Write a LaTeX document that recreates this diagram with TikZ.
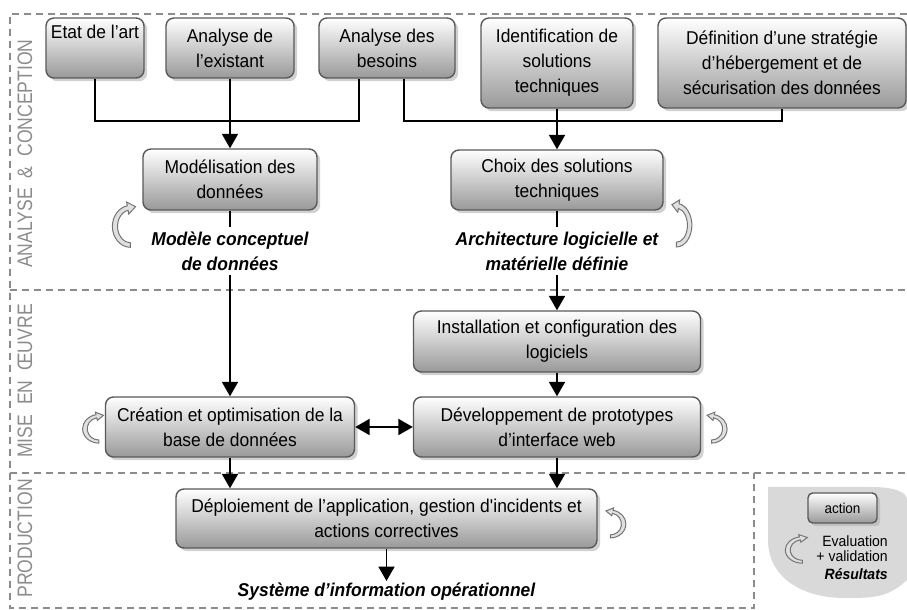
\documentclass[tikz,border=0pt]{standalone}
\usepackage{fontspec}
\setmainfont{Liberation Sans}[FakeStretch=0.94]
\newfontfamily\lanefont{Liberation Sans}[FakeStretch=0.84]
\usetikzlibrary{arrows.meta,shadows}

\tikzset{
  etape/.style={draw=black!65, line width=1pt, rounded corners=0.2cm,
    top color=white, bottom color=black!40, align=center, inner sep=2pt,
    font=\fontsize{13.2}{17.8}\selectfont,
    drop shadow={shadow xshift=0.08cm, shadow yshift=-0.08cm, fill=black!30, opacity=0.6}},
  resultat/.style={align=center, inner sep=0.1cm, font=\fontsize{13.2}{17.8}\selectfont\bfseries\itshape},
  couloir/.style={rotate=90, text=black!45, font=\fontsize{14.9}{16}\lanefont},
  lien/.style={line width=1.3pt},
  fleche/.style={lien, -{Triangle[length=0.36cm,width=0.4cm]}},
  fleche2/.style={lien, {Triangle[length=0.36cm,width=0.4cm]}-{Triangle[length=0.36cm,width=0.4cm]}},
  cadre/.style={draw=black!45, line width=0.9pt, dash pattern=on 0.18cm off 0.12cm},
  evalloop/.pic={
    \filldraw[draw=black!55, fill=black!12, line width=0.7pt]
      (0,-0.55) arc[start angle=270, end angle=100, x radius=0.45, y radius=0.55]
      -- (-0.095,0.64) -- (0.13,0.52) -- (-0.04,0.325)
      -- (-0.057,0.423) arc[start angle=100, end angle=270, x radius=0.32, y radius=0.43]
      -- cycle;
  }
}

\begin{document}
\begin{tikzpicture}
  \useasboundingbox (0,0) rectangle (22.675,-15.25);

  % lanes
  \draw[cadre] (22.675,-0.35) -- (0.25,-0.35) -- (0.25,-15.2) -- (18.85,-15.2) -- (18.85,-11.825);
  \draw[cadre] (0.25,-7.25) -- (22.675,-7.25);
  \draw[cadre] (0.25,-11.825) -- (22.675,-11.825);
  \node[couloir] (lane1) at (0.625,-3.84) {ANALYSE \ \& \ CONCEPTION};
  \node[couloir] (lane2) at (0.625,-9.525) {MISE \ EN \ ŒUVRE};
  \node[couloir] (lane3) at (0.625,-13.46) {PRODUCTION};

  % legend
  \fill[black!15] (19.2,-12.175) -- (21.75,-12.175)
    .. controls (22.375,-12.175) and (22.675,-12.3) .. (22.675,-12.5)
    -- (22.675,-14.5)
    .. controls (22.2,-14.95) and (21.8,-14.95) .. (21.125,-14.95)
    .. controls (20.0,-14.95) and (19.2,-14.4) .. (19.2,-13.5) -- cycle;
  \node[etape, minimum width=1.725cm, minimum height=0.75cm, rounded corners=0.12cm,
    font=\fontsize{10.2}{11}\selectfont] (action) at (21.0625,-12.7) {action};
  \pic[xscale=0.95, yscale=0.6] at (20.06,-13.75) {evalloop};
  \node[align=right, anchor=east, inner sep=0pt, font=\fontsize{10.6}{10.2}\selectfont]
    (legende) at (22.2,-13.95) {Evaluation\\+ validation\\[3pt]\textbf{\textit{Résultats}}};

  % analyse & conception
  \node[etape, minimum width=2.45cm, minimum height=1.5cm] (etat) at (2.375,-1.2) {Etat de l’art\\ \strut};
  \node[etape, minimum width=3.2cm, minimum height=1.5cm] (exist) at (5.75,-1.2) {Analyse de\\l’existant};
  \node[etape, minimum width=3.4cm, minimum height=1.5cm] (besoins) at (9.675,-1.2) {Analyse des\\besoins};
  \node[etape, minimum width=3.8cm, minimum height=2.25cm] (ident) at (13.925,-1.575) {Identification de\\solutions\\techniques};
  \node[etape, minimum width=6.2cm, minimum height=2.25cm] (strat) at (19.55,-1.575) {Définition d’une stratégie\\d’hébergement et de\\sécurisation des données};
  \node[etape, minimum width=4.35cm, minimum height=1.525cm] (model) at (5.75,-4.4875) {Modélisation des\\données};
  \node[etape, minimum width=5.3cm, minimum height=1.5cm] (choix) at (13.925,-4.5) {Choix des solutions\\techniques};
  \node[resultat] (mcd) at (5.75,-6.275) {Modèle conceptuel\\de données};
  \node[resultat] (archi) at (13.925,-6.275) {Architecture logicielle et\\matérielle définie};
  \pic[yscale=0.95] at (3.26,-5.66) {evalloop};
  \pic[xscale=-0.86, yscale=0.99] at (16.91,-5.63) {evalloop};

  \coordinate (b1) at ([xshift=-0.7cm]besoins.south);
  \coordinate (b2) at ([xshift=0.425cm]besoins.south);
  \draw[lien] (etat.south) -- ++(0,-1.05) -| (b1);
  \draw[lien] (b2) -- ++(0,-1.05) -| (strat.south);
  \draw[fleche] (exist.south) -- (model.north);
  \draw[fleche] (ident.south) -- (choix.north);
  \draw[lien] (model.south) -- (mcd.north);
  \draw[lien] (choix.south) -- (archi.north);

  % mise en oeuvre
  \node[etape, minimum width=7.175cm, minimum height=1.525cm] (instal) at (13.925,-8.5375) {Installation et configuration des\\logiciels};
  \node[etape, minimum width=7.175cm, minimum height=1.5cm] (dev) at (13.925,-10.675) {Développement de prototypes\\d’interface web};
  \node[etape, minimum width=6.225cm, minimum height=1.5cm] (creat) at (5.75,-10.675) {Création et optimisation de la\\base de données};
  \pic[xscale=0.9, yscale=0.65] at (2.47,-10.72) {evalloop};
  \pic[xscale=-0.86, yscale=0.65] at (17.79,-10.72) {evalloop};

  \draw[fleche] (mcd.south) -- (creat.north);
  \draw[fleche] (archi.south) -- (instal.north);
  \draw[fleche] (instal.south) -- (dev.north);
  \draw[fleche2] (creat.east) -- (dev.west);

  % production
  \node[etape, minimum width=10.525cm, minimum height=1.475cm] (deploy) at (9.6625,-12.9625) {Déploiement de l’application, gestion d\textquotesingle incidents et\\actions correctives};
  \node[resultat, inner sep=0.05cm] (sio) at (9.6625,-14.8) {Système d’information opérationnel};
  \pic[xscale=-0.86, yscale=0.63] at (15.26,-13.1) {evalloop};

  \draw[fleche] (creat.south) -- (creat.south |- deploy.north);
  \draw[fleche] (dev.south) -- (dev.south |- deploy.north);
  \draw[fleche] (deploy.south) -- (sio.north);
\end{tikzpicture}
\end{document}
